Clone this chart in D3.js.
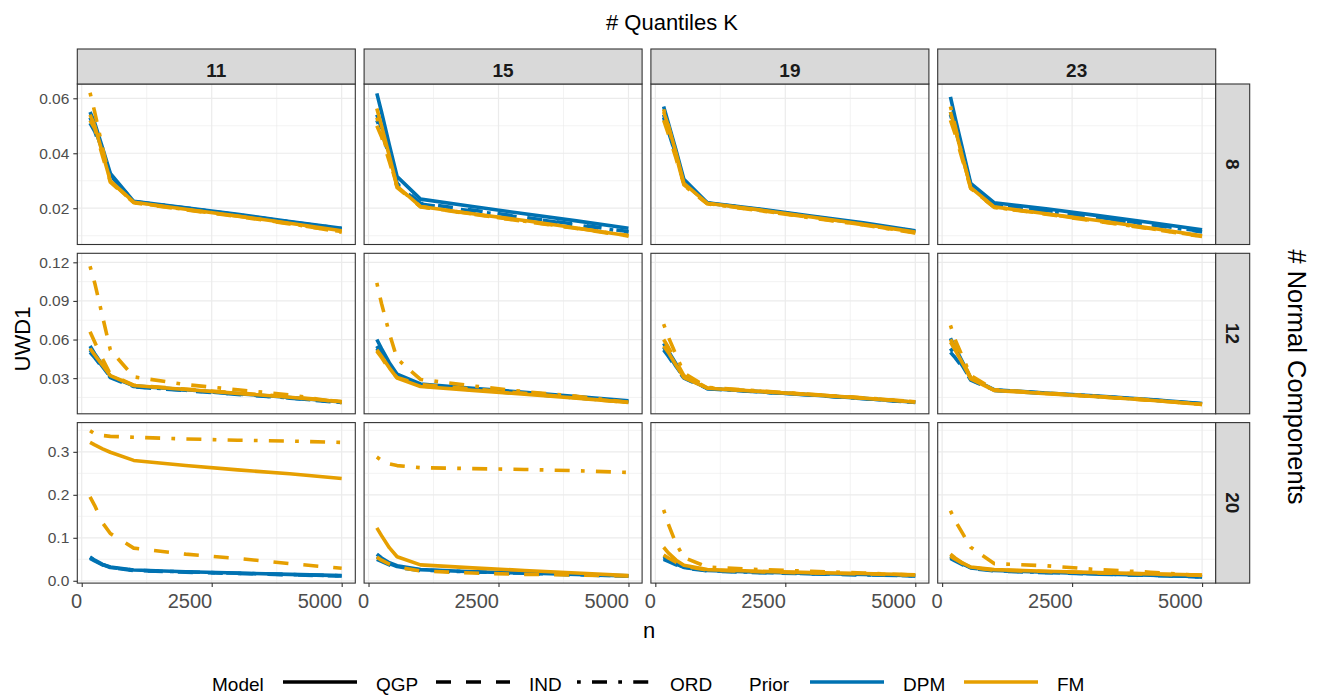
<!DOCTYPE html>
<html>
<head>
<meta charset="utf-8">
<script src="https://cdn.jsdelivr.net/npm/d3@7"></script>
<style>
  html, body { margin: 0; padding: 0; background: #ffffff; }
  svg { display: block; font-family: "Liberation Sans", Arial, Helvetica, sans-serif; }
</style>
</head>
<body>
<svg id="chart" width="1320" height="695"></svg>
<script>
// ---------------- DATA ----------------
const nValues = [160, 250, 400, 550, 1000, 2000, 3000, 4000, 5000];
const quantilesK = ["11", "15", "19", "23"];
const components = ["8", "12", "20"];
const models = ["QGP", "IND", "ORD"];
const priors = ["DPM", "FM"];
// order of the six series inside every panel array
const seriesOrder = [["QGP","DPM"],["QGP","FM"],["IND","DPM"],["IND","FM"],["ORD","DPM"],["ORD","FM"]];

const xTicks = [0, 2500, 5000];
const yTicks8 = [0.02, 0.04, 0.06];
const yTicks12 = [0.03, 0.06, 0.09, 0.12];
const yTicks20 = [0.0, 0.1, 0.2, 0.3];

// ---- 8 normal components ----
const m8_k11 = [
  [0.055, 0.051, 0.042, 0.0327, 0.0225, 0.0202, 0.0178, 0.0152, 0.0127],
  [0.054, 0.050, 0.040, 0.0300, 0.0222, 0.0196, 0.0172, 0.0145, 0.0118],
  [0.051, 0.048, 0.040, 0.0320, 0.0223, 0.0200, 0.0175, 0.0150, 0.0125],
  [0.052, 0.049, 0.039, 0.0295, 0.0220, 0.0194, 0.0170, 0.0143, 0.0115],
  [0.053, 0.049, 0.041, 0.0322, 0.0224, 0.0201, 0.0176, 0.0150, 0.0126],
  [0.062, 0.055, 0.042, 0.0298, 0.0221, 0.0195, 0.0171, 0.0144, 0.0113]
];
const m8_k15 = [
  [0.0618, 0.055, 0.043, 0.0315, 0.0233, 0.0206, 0.0180, 0.0154, 0.0127],
  [0.0563, 0.050, 0.039, 0.0280, 0.0206, 0.0180, 0.0155, 0.0128, 0.0100],
  [0.054, 0.049, 0.040, 0.0290, 0.0218, 0.0193, 0.0167, 0.0141, 0.0115],
  [0.050, 0.046, 0.037, 0.0275, 0.0205, 0.0178, 0.0152, 0.0126, 0.0099],
  [0.052, 0.048, 0.039, 0.0285, 0.0215, 0.0190, 0.0165, 0.0139, 0.0113],
  [0.053, 0.048, 0.038, 0.0278, 0.0206, 0.0179, 0.0153, 0.0127, 0.0101]
];
const m8_k19 = [
  [0.057, 0.051, 0.041, 0.0305, 0.0220, 0.0197, 0.0172, 0.0147, 0.0118],
  [0.055, 0.050, 0.040, 0.0290, 0.0218, 0.0194, 0.0168, 0.0142, 0.0113],
  [0.054, 0.049, 0.039, 0.0295, 0.0219, 0.0195, 0.0170, 0.0144, 0.0116],
  [0.052, 0.047, 0.038, 0.0285, 0.0217, 0.0192, 0.0166, 0.0140, 0.0111],
  [0.053, 0.048, 0.039, 0.0292, 0.0219, 0.0195, 0.0169, 0.0143, 0.0115],
  [0.056, 0.050, 0.039, 0.0283, 0.0216, 0.0191, 0.0165, 0.0139, 0.0110]
];
const m8_k23 = [
  [0.0605, 0.053, 0.041, 0.0290, 0.0220, 0.0198, 0.0173, 0.0148, 0.0122],
  [0.055, 0.049, 0.038, 0.0275, 0.0205, 0.0180, 0.0155, 0.0128, 0.0100],
  [0.055, 0.050, 0.039, 0.0285, 0.0215, 0.0192, 0.0167, 0.0142, 0.0116],
  [0.052, 0.047, 0.037, 0.0272, 0.0203, 0.0178, 0.0152, 0.0125, 0.0097],
  [0.054, 0.049, 0.039, 0.0284, 0.0214, 0.0190, 0.0165, 0.0140, 0.0114],
  [0.057, 0.050, 0.038, 0.0273, 0.0204, 0.0179, 0.0153, 0.0126, 0.0098]
];
// ---- 12 normal components ----
const m12_k11 = [
  [0.055, 0.049, 0.040, 0.0315, 0.0240, 0.0210, 0.0180, 0.0150, 0.0115],
  [0.053, 0.048, 0.040, 0.0320, 0.0243, 0.0212, 0.0182, 0.0152, 0.0116],
  [0.050, 0.046, 0.038, 0.0305, 0.0232, 0.0203, 0.0174, 0.0145, 0.0110],
  [0.066, 0.058, 0.045, 0.0330, 0.0245, 0.0215, 0.0185, 0.0155, 0.0118],
  [0.052, 0.047, 0.039, 0.0310, 0.0235, 0.0206, 0.0176, 0.0147, 0.0112],
  [0.117, 0.104, 0.078, 0.052, 0.031, 0.025, 0.021, 0.017, 0.011]
];
const m12_k15 = [
  [0.060, 0.053, 0.042, 0.0330, 0.0255, 0.0222, 0.0190, 0.0158, 0.0125],
  [0.052, 0.047, 0.038, 0.0300, 0.0235, 0.0205, 0.0175, 0.0145, 0.0112],
  [0.055, 0.049, 0.040, 0.0315, 0.0245, 0.0213, 0.0182, 0.0150, 0.0118],
  [0.051, 0.046, 0.037, 0.0305, 0.0250, 0.0215, 0.0182, 0.0148, 0.0110],
  [0.053, 0.048, 0.039, 0.0310, 0.0240, 0.0210, 0.0178, 0.0147, 0.0115],
  [0.104, 0.088, 0.065, 0.045, 0.029, 0.024, 0.0195, 0.016, 0.0112]
];
const m12_k19 = [
  [0.057, 0.051, 0.041, 0.0310, 0.0220, 0.0195, 0.0170, 0.0143, 0.0113],
  [0.055, 0.050, 0.040, 0.0305, 0.0222, 0.0197, 0.0172, 0.0145, 0.0115],
  [0.052, 0.047, 0.038, 0.0300, 0.0218, 0.0193, 0.0168, 0.0141, 0.0111],
  [0.060, 0.054, 0.043, 0.0320, 0.0225, 0.0199, 0.0173, 0.0146, 0.0116],
  [0.054, 0.049, 0.039, 0.0305, 0.0219, 0.0194, 0.0169, 0.0142, 0.0112],
  [0.072, 0.062, 0.048, 0.0340, 0.0228, 0.0200, 0.0174, 0.0147, 0.0117]
];
const m12_k23 = [
  [0.061, 0.054, 0.042, 0.0300, 0.0210, 0.0185, 0.0160, 0.0133, 0.0102],
  [0.058, 0.052, 0.041, 0.0295, 0.0205, 0.0180, 0.0155, 0.0128, 0.0095],
  [0.050, 0.046, 0.038, 0.0285, 0.0205, 0.0181, 0.0157, 0.0131, 0.0100],
  [0.060, 0.054, 0.043, 0.0305, 0.0208, 0.0182, 0.0156, 0.0129, 0.0096],
  [0.053, 0.048, 0.039, 0.0290, 0.0207, 0.0183, 0.0158, 0.0132, 0.0101],
  [0.071, 0.060, 0.046, 0.0320, 0.0210, 0.0184, 0.0158, 0.0130, 0.0097]
];
// ---- 20 normal components ----
const m20_k11 = [
  [0.055, 0.048, 0.038, 0.032, 0.025, 0.021, 0.018, 0.015, 0.012],
  [0.322, 0.316, 0.307, 0.299, 0.280, 0.268, 0.258, 0.249, 0.238],
  [0.052, 0.046, 0.037, 0.031, 0.024, 0.020, 0.017, 0.014, 0.011],
  [0.195, 0.175, 0.135, 0.110, 0.076, 0.062, 0.052, 0.040, 0.029],
  [0.054, 0.047, 0.038, 0.031, 0.0245, 0.0205, 0.0175, 0.0145, 0.0115],
  [0.349, 0.342, 0.338, 0.336, 0.334, 0.330, 0.327, 0.325, 0.322]
];
const m20_k15 = [
  [0.062, 0.053, 0.042, 0.035, 0.026, 0.021, 0.018, 0.0145, 0.0115],
  [0.123, 0.105, 0.077, 0.056, 0.037, 0.030, 0.024, 0.018, 0.012],
  [0.050, 0.045, 0.037, 0.031, 0.024, 0.020, 0.017, 0.014, 0.011],
  [0.055, 0.048, 0.039, 0.032, 0.023, 0.018, 0.015, 0.013, 0.011],
  [0.056, 0.049, 0.040, 0.033, 0.025, 0.0205, 0.0175, 0.0142, 0.0112],
  [0.288, 0.280, 0.272, 0.268, 0.263, 0.261, 0.259, 0.256, 0.252]
];
const m20_k19 = [
  [0.058, 0.050, 0.040, 0.032, 0.024, 0.020, 0.017, 0.0145, 0.012],
  [0.078, 0.065, 0.048, 0.036, 0.026, 0.022, 0.019, 0.017, 0.014],
  [0.050, 0.045, 0.037, 0.030, 0.023, 0.019, 0.016, 0.014, 0.0115],
  [0.060, 0.053, 0.043, 0.034, 0.025, 0.021, 0.018, 0.016, 0.0135],
  [0.054, 0.048, 0.039, 0.031, 0.0235, 0.0195, 0.0165, 0.014, 0.0118],
  [0.165, 0.132, 0.086, 0.054, 0.032, 0.026, 0.022, 0.018, 0.013]
];
const m20_k23 = [
  [0.058, 0.050, 0.040, 0.031, 0.024, 0.020, 0.016, 0.013, 0.0095],
  [0.062, 0.053, 0.041, 0.032, 0.026, 0.022, 0.019, 0.016, 0.0135],
  [0.052, 0.046, 0.037, 0.029, 0.023, 0.019, 0.0155, 0.0125, 0.009],
  [0.057, 0.050, 0.040, 0.031, 0.025, 0.0215, 0.0185, 0.0155, 0.013],
  [0.055, 0.048, 0.039, 0.030, 0.0235, 0.0195, 0.016, 0.013, 0.0092],
  [0.163, 0.140, 0.109, 0.078, 0.040, 0.035, 0.026, 0.020, 0.012]
];

// ---------------- BUILD TABLES ----------------
const panelArrays = {
  "8":  { "11": m8_k11,  "15": m8_k15,  "19": m8_k19,  "23": m8_k23 },
  "12": { "11": m12_k11, "15": m12_k15, "19": m12_k19, "23": m12_k23 },
  "20": { "11": m20_k11, "15": m20_k15, "19": m20_k19, "23": m20_k23 }
};
const rowTicks = { "8": yTicks8, "12": yTicks12, "20": yTicks20 };
const rowFormat = { "8": d3.format(".2f"), "12": d3.format(".2f"), "20": d3.format(".1f") };
// scale ranges (ggplot free_y limits incl. expansion)
const rowDomain = { "8": [0.0068, 0.0652], "12": [0.0023, 0.127], "20": [-0.0054, 0.368] };

// ---------------- LAYOUT ----------------
const svg = d3.select("#chart");
const panelW = 278, panelH = 160.5, gapX = 8.8, gapY = 8.8;
const left0 = 77.3, top0 = 84;
const stripH = 35, stripW = 34;
const colour = { DPM: "#0072B2", FM: "#E69F00" };
const dash = { QGP: null, IND: "15,15", ORD: "3.75,11.25,15,11.25" };
const lw = 3.6;
const greyText = "#4D4D4D", border = "#333333", grid = "#EBEBEB";

const x = d3.scaleLinear().domain([-85, 5262]).range([0, panelW]);

components.forEach((m, ri) => {
  const py = top0 + ri * (panelH + gapY);
  const y = d3.scaleLinear().domain(rowDomain[m]).range([panelH, 0]);
  const yt = rowTicks[m];
  const step = yt[1] - yt[0];
  const minorY = [];
  for (let v = yt[0] - step / 2; v <= rowDomain[m][1]; v += step) {
    if (v >= rowDomain[m][0]) minorY.push(v);
  }
  const minorX = [1250, 3750];

  quantilesK.forEach((k, ci) => {
    const px = left0 + ci * (panelW + gapX);
    const g = svg.append("g").attr("transform", `translate(${px},${py})`);
    g.append("rect").attr("width", panelW).attr("height", panelH).attr("fill", "#fff");
    // minor grid
    g.selectAll(".mgx").data(minorX).join("line")
      .attr("x1", d => x(d)).attr("x2", d => x(d)).attr("y1", 0).attr("y2", panelH)
      .attr("stroke", grid).attr("stroke-width", 0.6);
    g.selectAll(".mgy").data(minorY).join("line")
      .attr("y1", d => y(d)).attr("y2", d => y(d)).attr("x1", 0).attr("x2", panelW)
      .attr("stroke", grid).attr("stroke-width", 0.6);
    // major grid
    g.selectAll(".gx").data(xTicks).join("line")
      .attr("x1", d => x(d)).attr("x2", d => x(d)).attr("y1", 0).attr("y2", panelH)
      .attr("stroke", grid).attr("stroke-width", 1.2);
    g.selectAll(".gy").data(yt).join("line")
      .attr("y1", d => y(d)).attr("y2", d => y(d)).attr("x1", 0).attr("x2", panelW)
      .attr("stroke", grid).attr("stroke-width", 1.2);

    // lines
    const clipId = `clip-${ri}-${ci}`;
    g.append("clipPath").attr("id", clipId).append("rect").attr("width", panelW).attr("height", panelH);
    const lineGen = d3.line().x((d, i) => x(nValues[i])).y(d => y(d));
    const arrs = panelArrays[m][k];
    const series = seriesOrder.map((s, i) => ({ model: s[0], prior: s[1], values: arrs[i] }));
    // DPM first, FM on top
    const ordered = series.filter(s => s.prior === "DPM").concat(series.filter(s => s.prior === "FM"));
    g.append("g").attr("clip-path", `url(#${clipId})`)
      .selectAll("path").data(ordered).join("path")
      .attr("d", s => lineGen(s.values))
      .attr("fill", "none")
      .attr("stroke", s => colour[s.prior])
      .attr("stroke-width", lw)
      .attr("stroke-linejoin", "round")
      .attr("stroke-linecap", "butt")
      .attr("stroke-dasharray", s => dash[s.model]);

    // border
    g.append("rect").attr("width", panelW).attr("height", panelH)
      .attr("fill", "none").attr("stroke", border).attr("stroke-width", 1.1);

    // y axis on first column
    if (ci === 0) {
      const ya = g.append("g").call(d3.axisLeft(y).tickValues(yt).tickFormat(rowFormat[m]).tickSize(4).tickPadding(4));
      ya.select(".domain").remove();
      ya.selectAll(".tick line").attr("stroke", border).attr("stroke-width", 1.1);
      ya.selectAll(".tick text").attr("fill", greyText).style("font-size", "15.5px")
        .style("font-family", "'Liberation Sans', Arial, sans-serif");
    }
    // x axis on last row
    if (ri === components.length - 1) {
      const xa = g.append("g").attr("transform", `translate(0,${panelH})`)
        .call(d3.axisBottom(x).tickValues(xTicks).tickFormat(d3.format("d")).tickSize(4).tickPadding(7));
      xa.select(".domain").remove();
      xa.selectAll(".tick line").attr("stroke", border).attr("stroke-width", 1.1);
      xa.selectAll(".tick text").attr("fill", greyText).style("font-size", "20px")
        .attr("text-anchor", "end")
        .style("font-family", "'Liberation Sans', Arial, sans-serif");
    }
    // top strip
    if (ri === 0) {
      const s = svg.append("g").attr("transform", `translate(${px},${py - stripH})`);
      s.append("rect").attr("width", panelW).attr("height", stripH)
        .attr("fill", "#D9D9D9").attr("stroke", border).attr("stroke-width", 1.1);
      s.append("text").attr("x", panelW / 2).attr("y", 27.5).attr("text-anchor", "middle")
        .attr("font-weight", "bold").attr("font-size", "19px").attr("fill", "#1A1A1A").text(k);
    }
    // right strip
    if (ci === quantilesK.length - 1) {
      const s = svg.append("g").attr("transform", `translate(${px + panelW},${py})`);
      s.append("rect").attr("width", stripW).attr("height", panelH)
        .attr("fill", "#D9D9D9").attr("stroke", border).attr("stroke-width", 1.1);
      s.append("text").attr("transform", `translate(${stripW / 2},${panelH / 2}) rotate(90)`)
        .attr("text-anchor", "middle").attr("dy", "0.35em")
        .attr("font-weight", "bold").attr("font-size", "19px").attr("fill", "#1A1A1A").text(m);
    }
  });
});

// ---------------- TITLES ----------------
svg.append("text").attr("x", 672).attr("y", 30).attr("text-anchor", "middle")
  .attr("font-size", "22px").attr("fill", "#000").text("# Quantiles K");
svg.append("text").attr("transform", "translate(1297,377) rotate(90)")
  .attr("text-anchor", "middle").attr("dy", "0.35em")
  .attr("font-size", "25.5px").attr("fill", "#000").text("# Normal Components");
svg.append("text").attr("transform", "translate(22,339) rotate(-90)")
  .attr("text-anchor", "middle").attr("dy", "0.35em")
  .attr("font-size", "22px").attr("fill", "#000").text("UWD1");
svg.append("text").attr("x", 649).attr("y", 638).attr("text-anchor", "middle")
  .attr("font-size", "22px").attr("fill", "#000").text("n");

// ---------------- LEGEND ----------------
const legY = 682, legText = 691, keyW = 74;
const leg = svg.append("g").attr("font-size", "19px").attr("fill", "#000");
leg.append("text").attr("x", 212).attr("y", legText).text("Model");
const modelKeys = [
  { label: "QGP", x0: 283 },
  { label: "IND", x0: 436 },
  { label: "ORD", x0: 577 }
];
modelKeys.forEach(mk => {
  leg.append("line").attr("x1", mk.x0).attr("x2", mk.x0 + keyW).attr("y1", legY).attr("y2", legY)
    .attr("stroke", "#000").attr("stroke-width", lw).attr("stroke-dasharray", dash[mk.label]);
  leg.append("text").attr("x", mk.x0 + keyW + 19).attr("y", legText).text(mk.label);
});
leg.append("text").attr("x", 749).attr("y", legText).text("Prior");
const priorKeys = [
  { label: "DPM", x0: 810 },
  { label: "FM", x0: 964 }
];
priorKeys.forEach(pk => {
  leg.append("line").attr("x1", pk.x0).attr("x2", pk.x0 + keyW).attr("y1", legY).attr("y2", legY)
    .attr("stroke", colour[pk.label]).attr("stroke-width", lw);
  leg.append("text").attr("x", pk.x0 + keyW + 19).attr("y", legText).text(pk.label);
});
</script>
</body>
</html>
